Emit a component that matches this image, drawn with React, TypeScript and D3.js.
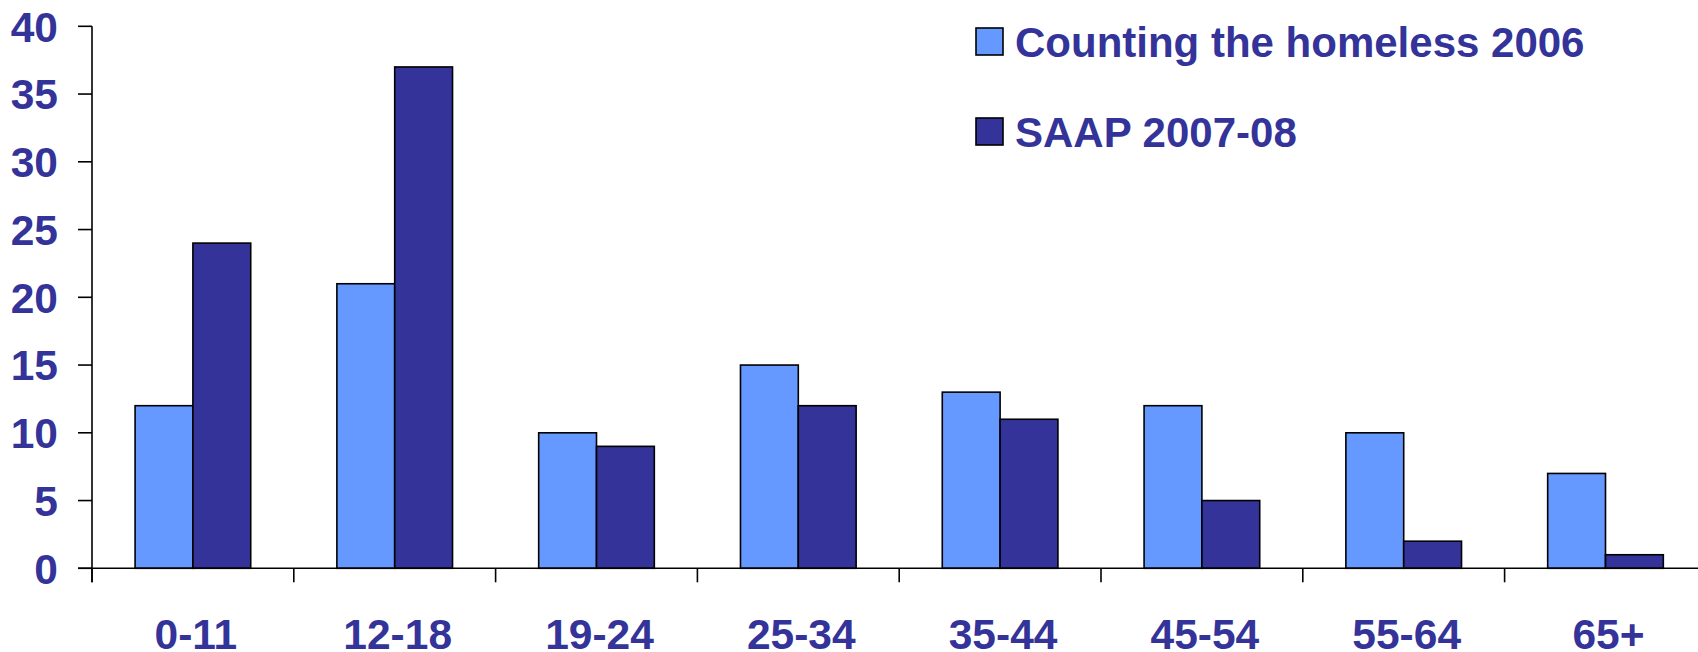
import * as d3 from 'd3';

const categories = ['0-11', '12-18', '19-24', '25-34', '35-44', '45-54', '55-64', '65+'];
const seriesNames = ['Counting the homeless 2006', 'SAAP 2007-08'];
const counting2006 = [12, 21, 10, 15, 13, 12, 10, 7];
const saap0708 = [24, 37, 9, 12, 11, 5, 2, 1];
const yTicks = [0, 5, 10, 15, 20, 25, 30, 35, 40];

const colors = ['#6699FF', '#333399'];
const textColor = '#333399';
const font = '"Liberation Sans", Arial, sans-serif';

export default function App() {
  const width = 1698;
  const height = 652;
  const left = 92;
  const step = 201.8;

  const x0 = d3.scaleBand<string>().domain(categories).range([left, left + step * categories.length]);
  const x1 = d3.scaleBand<string>().domain(seriesNames).range([0, x0.bandwidth()]).paddingOuter(0.745);
  const y = d3.scaleLinear().domain([0, 40]).range([568.3, 26.3]);

  const series = [counting2006, saap0708];

  return (
    <svg width={width} height={height} style={{ position: 'fixed', left: 0, top: 0, background: '#fff' }}>
      {/* bars */}
      {categories.map((c, i) => (
        <g key={c} transform={`translate(${x0(c)},0)`}>
          {seriesNames.map((s, j) => (
            <rect
              key={s}
              x={x1(s)}
              y={y(series[j][i])}
              width={x1.bandwidth()}
              height={y(0) - y(series[j][i])}
              fill={colors[j]}
              stroke="#000"
              strokeWidth={1.6}
            />
          ))}
        </g>
      ))}

      {/* y axis */}
      <line x1={left} x2={left} y1={y(40)} y2={y(0) + 14} stroke="#000" strokeWidth={1.6} />
      {yTicks.map((t) => (
        <g key={t}>
          <line x1={left - 14} x2={left} y1={y(t)} y2={y(t)} stroke="#000" strokeWidth={1.6} />
          <text
            x={58}
            y={y(t)}
            dy="0.36em"
            textAnchor="end"
            fontFamily={font}
            fontWeight="bold"
            fontSize={42.5}
            fill={textColor}
          >
            {t}
          </text>
        </g>
      ))}

      {/* x axis */}
      <line x1={left - 14} x2={width} y1={y(0)} y2={y(0)} stroke="#000" strokeWidth={1.6} />
      {categories.map((c) => (
        <g key={c}>
          <line x1={x0(c)!} x2={x0(c)!} y1={y(0)} y2={y(0) + 14} stroke="#000" strokeWidth={1.6} />
          <text
            x={x0(c)! + x0.bandwidth() / 2 + 3}
            y={649}
            textAnchor="middle"
            fontFamily={font}
            fontWeight="bold"
            fontSize={42.5}
            fill={textColor}
          >
            {c}
          </text>
        </g>
      ))}

      {/* legend */}
      {seriesNames.map((s, j) => (
        <g key={s} transform={`translate(976,${28 + j * 90})`}>
          <rect width={27} height={27} fill={colors[j]} stroke="#000" strokeWidth={1.6} />
          <text x={39} y={28.5} fontFamily={font} fontWeight="bold" fontSize={42} fill={textColor}>
            {s}
          </text>
        </g>
      ))}
    </svg>
  );
}
